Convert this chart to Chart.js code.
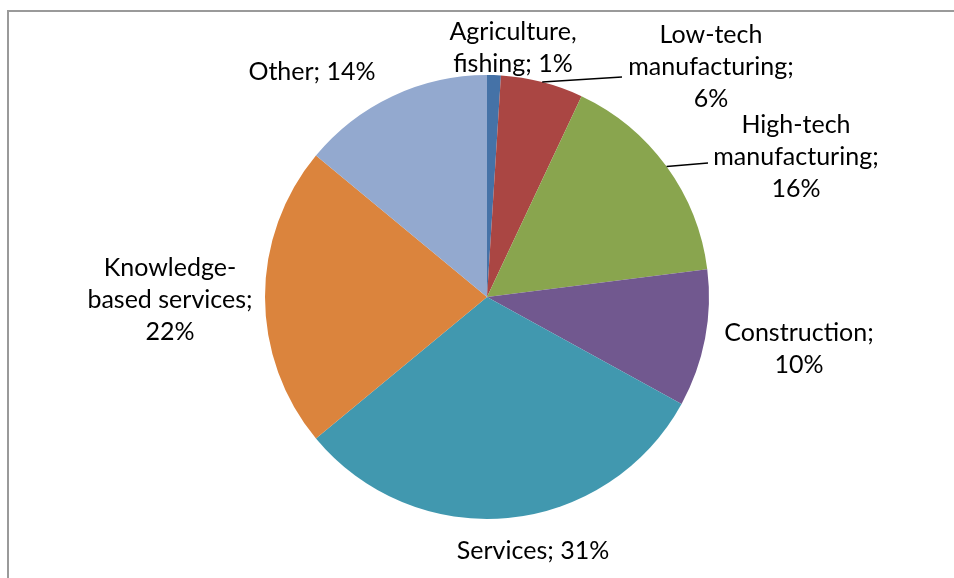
<!DOCTYPE html>
<html>
<head>
    <title>Employment by sector</title>
    <script src="https://cdn.jsdelivr.net/npm/chart.js"></script>
    <style>
        html, body { margin: 0; padding: 0; background: #fff; }
        #wrap { position: relative; width: 954px; height: 578px; overflow: hidden; }
        #frame {
            position: absolute; left: 7px; top: 10px; width: 1000px; height: 640px;
            border: 2px solid #9a9a9a; box-sizing: border-box;
        }
        #sectorChart { position: absolute; left: 0; top: 0; }
    </style>
</head>
<body>
    <div id="wrap">
        <div id="frame"></div>
        <canvas id="sectorChart" width="954" height="578"></canvas>
    </div>
    <script>
        const categories = ['Agriculture, fishing', 'Low-tech manufacturing', 'High-tech manufacturing',
            'Construction', 'Services', 'Knowledge-based services', 'Other'];
        const shares = [1, 6, 16, 10, 31, 22, 14];
        const sliceColors = ['#4572A7', '#AA4643', '#89A54E', '#71588F', '#4198AF', '#DB843D', '#93A9CF'];

        // where each data label sits, relative to the pie centre; wrap = max line width
        const labelPlacement = [
            { dx: 26, dy: -249, wrap: 150 },
            { dx: 224, dy: -230, wrap: 170, leader: [135, -220] },
            { dx: 309, dy: -140, wrap: 170, leader: [221, -134] },
            { dx: 312, dy: 52, wrap: 160 },
            { dx: 46, dy: 254, wrap: 300 },
            { dx: -317, dy: 3, wrap: 170 },
            { dx: -175, dy: -225, wrap: 300 }
        ];

        const labelFont = '25px Lato';
        const lineHeight = 32;

        // greedy wrap, breaking on spaces and after hyphens
        const wrapText = (ctx, text, maxWidth) => {
            const tokens = text.match(/[^\s-]+-?|\s+/g);
            const lines = [];
            let line = '';
            tokens.forEach(tok => {
                const test = line + tok;
                if (line.trim() && ctx.measureText(test.trim()).width > maxWidth) {
                    lines.push(line.trim());
                    line = tok.trim() ? tok : '';
                } else {
                    line = test;
                }
            });
            if (line.trim()) lines.push(line.trim());
            return lines;
        };

        const pieLabels = {
            id: 'pieLabels',
            afterDatasetsDraw(chart) {
                const ctx = chart.ctx;
                const meta = chart.getDatasetMeta(0);
                ctx.save();
                ctx.font = labelFont;
                ctx.fillStyle = '#000';
                ctx.textAlign = 'center';
                ctx.textBaseline = 'middle';
                meta.data.forEach((arc, i) => {
                    const p = labelPlacement[i];
                    const cx = arc.x + p.dx;
                    const cy = arc.y + p.dy;
                    if (p.leader) {
                        const mid = (arc.startAngle + arc.endAngle) / 2;
                        ctx.beginPath();
                        ctx.moveTo(arc.x + Math.cos(mid) * arc.outerRadius, arc.y + Math.sin(mid) * arc.outerRadius);
                        ctx.lineTo(arc.x + p.leader[0], arc.y + p.leader[1]);
                        ctx.strokeStyle = '#000';
                        ctx.lineWidth = 1.5;
                        ctx.stroke();
                    }
                    const text = categories[i] + '; ' + shares[i] + '%';
                    const lines = wrapText(ctx, text, p.wrap);
                    const top = cy - (lines.length - 1) * lineHeight / 2;
                    lines.forEach((ln, k) => ctx.fillText(ln, cx, top + k * lineHeight));
                });
                ctx.restore();
            }
        };

        const ctx = document.getElementById('sectorChart').getContext('2d');
        new Chart(ctx, {
            type: 'pie',
            data: {
                labels: categories,
                datasets: [{
                    data: shares,
                    backgroundColor: sliceColors,
                    borderWidth: 0,
                    hoverOffset: 0
                }]
            },
            options: {
                responsive: false,
                animation: false,
                layout: { padding: { left: 265, right: 245, top: 75, bottom: 59 } },
                plugins: {
                    legend: { display: false },
                    tooltip: { enabled: false }
                }
            },
            plugins: [pieLabels]
        });
    </script>
</body>
</html>
